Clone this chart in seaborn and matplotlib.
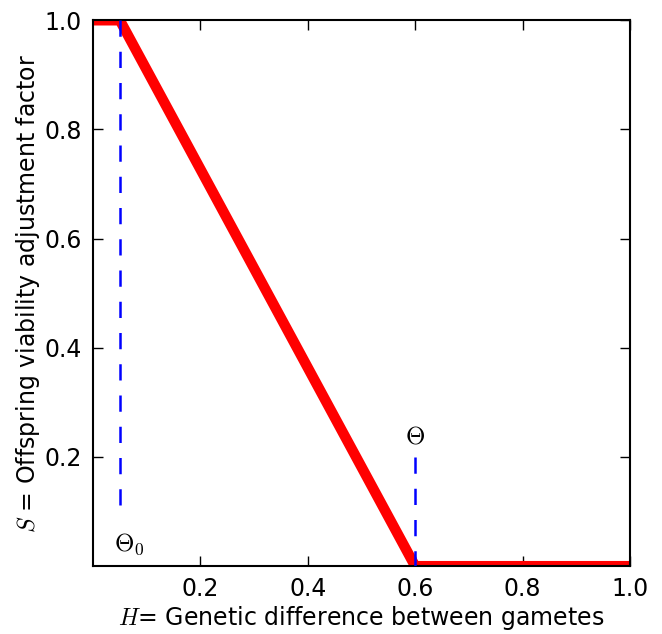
import numpy as np
import pandas as pd
import matplotlib
matplotlib.use('Agg')
import matplotlib.pyplot as plt
import seaborn as sns

# viability curve S(H)
h_pts = [0.0, 0.05, 0.6, 1.0]
s_pts = [1.0, 1.0, 0.0, 0.0]

# thresholds and dashed marker extents
theta0 = 0.05
theta0_span = [0.1, 1.0]
theta = 0.6
theta_span = [0.0, 0.2]

xticks = [0.2, 0.4, 0.6, 0.8, 1.0]
yticks = [0.2, 0.4, 0.6, 0.8, 1.0]

sns.set_style('ticks')
plt.rcParams['font.family'] = ['DejaVu Sans']
plt.rcParams['mathtext.fontset'] = 'cm'
for k in ['text.color', 'axes.labelcolor', 'xtick.color', 'ytick.color', 'axes.edgecolor']:
    plt.rcParams[k] = 'black'

fig = plt.figure(figsize=(6.62, 6.34), dpi=100)
ax = fig.add_axes([0.1405, 0.107, 0.811, 0.861])

curve = pd.DataFrame({'H': h_pts, 'S': s_pts})
sns.lineplot(data=curve, x='H', y='S', color='red', lw=7.5, ax=ax, zorder=2,
             estimator=None, sort=False)

d0 = pd.DataFrame({'H': [theta0, theta0], 'S': theta0_span[::-1]})
d1 = pd.DataFrame({'H': [theta, theta], 'S': theta_span[::-1]})
for d in (d0, d1):
    sns.lineplot(data=d, x='H', y='S', color='blue', lw=1.8, ax=ax, zorder=3,
                 estimator=None, sort=False)
    ax.lines[-1].set_linestyle((0, (6.5, 6)))

ax.text(0.04, 0.04, r'$\Theta_0$', fontsize=18, ha='left', va='center')
ax.text(theta, 0.238, r'$\Theta$', fontsize=18, ha='center', va='center')

ax.set_xlim(0, 1)
ax.set_ylim(0, 1)
ax.set_xticks(xticks)
ax.set_yticks(yticks)
ax.set_xticklabels([f'{v:.1f}' for v in xticks])
ax.set_yticklabels([f'{v:.1f}' for v in yticks])
ax.tick_params(direction='in', length=7, width=1, top=True, right=True,
               labelsize=17, pad=8, colors='black')
for sp in ax.spines.values():
    sp.set_linewidth(1.5)
    sp.set_visible(True)
    sp.set_color('black')

ax.set_xlabel(r'$H$= Genetic difference between gametes', fontsize=17, labelpad=2)
ax.set_ylabel(r'$S$ = Offspring viability adjustment factor', fontsize=17, labelpad=2)

fig.savefig('out.png', dpi=100)
